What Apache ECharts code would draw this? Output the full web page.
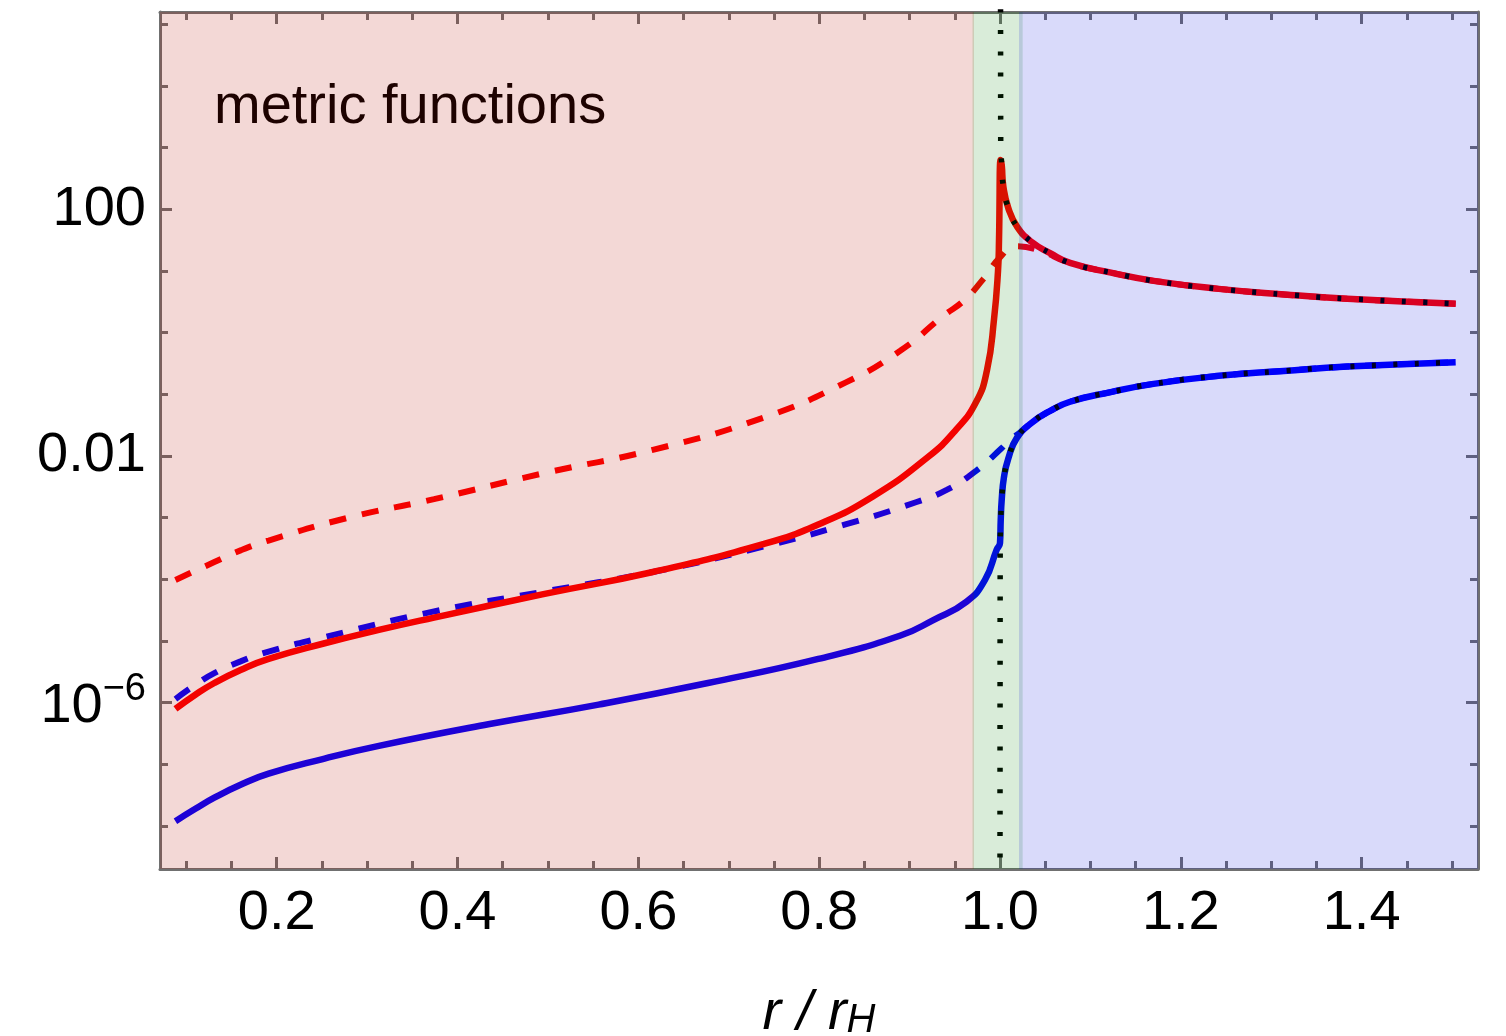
<!DOCTYPE html>
<html>
<head>
<meta charset="utf-8">
<title>metric functions</title>
<script src="https://cdn.jsdelivr.net/npm/echarts@6/dist/echarts.min.js"></script>
<style>
  html, body { margin: 0; padding: 0; background: #fff; }
  #chart { width: 1506px; height: 1036px; }
</style>
</head>
<body>
<div id="chart"></div>
<script>
  // x = r / r_H, y = log10 of the metric function (axis labelled as powers of ten)
  const rRedSolid = [0.088, 0.110, 0.131, 0.160, 0.191, 0.252, 0.313, 0.374, 0.495, 0.616, 0.738, 0.799, 0.859, 0.920, 0.951,
    0.9734, 0.9856, 0.9934, 0.9978, 0.9989, 1.0006, 1.0019, 1.0037, 1.0092, 1.0192, 1.0351, 1.0554,
    1.0775, 1.124, 1.170, 1.242, 1.314, 1.384, 1.504];
  const logRedSolid = [-6.10, -5.87, -5.68, -5.47, -5.29, -5.04, -4.82, -4.62, -4.24, -3.88, -3.43, -3.11, -2.66, -2.02, -1.58,
    -1.13, -0.61, 0.22, 1.0, 1.5, 2.80, 2.72, 2.37, 2.02, 1.71, 1.47, 1.29,
    1.13, 0.97, 0.84, 0.71, 0.62, 0.55, 0.47];

  const rRedDash = [0.088, 0.110, 0.131, 0.160, 0.191, 0.282, 0.374, 0.495, 0.616, 0.738, 0.829, 0.890, 0.938, 0.960,
    0.981, 1.000, 1.017, 1.042, 1.0775, 1.124, 1.170, 1.242, 1.314, 1.384, 1.504];
  const logRedDash = [-4.01, -3.86, -3.72, -3.53, -3.37, -2.99, -2.70, -2.28, -1.90, -1.38, -0.81, -0.29, 0.28, 0.52,
    0.86, 1.22, 1.40, 1.34, 1.13, 0.97, 0.84, 0.71, 0.62, 0.55, 0.47];

  const rBlueSolid = [0.088, 0.110, 0.131, 0.160, 0.191, 0.252, 0.313, 0.434, 0.556, 0.677, 0.799, 0.890, 0.9262, 0.9631,
    0.9834, 0.9963, 1.0, 1.0008, 1.0019, 1.0044, 1.0092, 1.0185, 1.0351, 1.0554, 1.0775, 1.1237,
    1.1698, 1.2418, 1.3138, 1.384, 1.504];
  const logBlueSolid = [-7.92, -7.72, -7.54, -7.33, -7.15, -6.91, -6.70, -6.35, -6.03, -5.68, -5.29, -4.91, -4.66, -4.36,
    -4.01, -3.52, -3.41, -3.04, -2.71, -2.34, -2.04, -1.71, -1.46, -1.27, -1.12, -0.96,
    -0.83, -0.70, -0.62, -0.55, -0.48];

  const rBlueDash = [0.088, 0.110, 0.131, 0.160, 0.191, 0.252, 0.374, 0.495, 0.616, 0.738, 0.829, 0.907, 0.941, 0.9735,
    1.002, 1.009, 1.022, 1.0351, 1.0554, 1.0775, 1.1237, 1.1698, 1.2418, 1.3138, 1.384, 1.504];
  const logBlueDash = [-5.94, -5.71, -5.52, -5.33, -5.17, -4.94, -4.52, -4.20, -3.88, -3.47, -3.11, -2.75, -2.55, -2.24,
    -1.87, -1.76, -1.62, -1.46, -1.27, -1.12, -0.96, -0.83, -0.70, -0.62, -0.55, -0.48];

  // black dotted asymptotic curves
  const rAsymRed = [1.0006, 1.0008, 1.0019, 1.0037, 1.0092, 1.0192, 1.0351, 1.0554, 1.0775, 1.124,
    1.170, 1.242, 1.314, 1.384, 1.504];
  const logAsymRed = [5.6, 3.06, 2.72, 2.37, 2.02, 1.71, 1.47, 1.29, 1.13, 0.97,
    0.84, 0.71, 0.62, 0.55, 0.47];
  const rAsymBlue = [1.0, 1.0002, 1.0008, 1.0019, 1.0044, 1.0092, 1.0185, 1.0351, 1.0554, 1.0775,
    1.1237, 1.1698, 1.2418, 1.3138, 1.384, 1.504];
  const logAsymBlue = [-9.2, -3.6, -3.04, -2.71, -2.34, -2.04, -1.71, -1.46, -1.27, -1.12,
    -0.96, -0.83, -0.70, -0.62, -0.55, -0.48];

  // shaded regions (r / r_H)
  const regionInner = [0.0709, 0.9712];
  const regionMiddle = [0.9696, 1.0251];
  const regionOuter = [1.0210, 1.5287];

  // axis ticks
  const xMajor = [0.2, 0.4, 0.6, 0.8, 1.0, 1.2, 1.4];
  const xMinor = [0.1, 0.15, 0.25, 0.3, 0.35, 0.45, 0.5, 0.55, 0.65, 0.7, 0.75, 0.85, 0.9, 0.95,
    1.05, 1.1, 1.15, 1.25, 1.3, 1.35, 1.45, 1.5];
  const yMajor = [-6, -2, 2];
  const yMajorText = ['{m|10}{s|−6}', '0.01', '100'];
  const yMinor = [-8, -7, -5, -4, -3, -1, 0, 1, 3, 4, 5];

  const FONT = '"Liberation Sans", Arial, Helvetica, sans-serif';
  const FRAME = '#707070';

  const pairs = (xs, ys) => xs.map((x, i) => [x, ys[i]]);

  const chart = echarts.init(document.getElementById('chart'));

  function xAx(pos, ticks, len, withLabel) {
    return {
      type: 'value', position: pos, min: 0.0709, max: 1.5287,
      axisLine: { show: withLabel !== null, onZero: false, lineStyle: { color: FRAME, width: 3 } },
      axisTick: { show: true, inside: true, length: len, customValues: ticks, lineStyle: { color: FRAME, width: 3 } },
      axisLabel: withLabel ? {
        show: true, customValues: ticks, margin: 17, color: '#000', fontSize: 56, fontFamily: FONT,
        formatter: v => v.toFixed(1)
      } : { show: false },
      splitLine: { show: false }
    };
  }
  function yAx(pos, ticks, len, withLabel) {
    return {
      type: 'value', position: pos, min: -8.696, max: 5.199,
      axisLine: { show: withLabel !== null, onZero: false, lineStyle: { color: FRAME, width: 3 } },
      axisTick: { show: true, inside: true, length: len, customValues: ticks, lineStyle: { color: FRAME, width: 3 } },
      axisLabel: withLabel ? {
        show: true, customValues: ticks, margin: 14, color: '#000', fontSize: 56, fontFamily: FONT,
        formatter: v => yMajorText[yMajor.indexOf(Math.round(v))],
        rich: {
          m: { fontSize: 56, fontFamily: FONT, color: '#000', padding: [8, 0, 0, 0] },
          s: { fontSize: 38, fontFamily: FONT, color: '#000', lineHeight: 20, verticalAlign: 'top' }
        }
      } : { show: false },
      splitLine: { show: false }
    };
  }

  const xAxes = [
    xAx('bottom', xMajor, 12, true),
    xAx('bottom', xMinor, 8, null),
    xAx('top', xMajor, 12, false),
    xAx('top', xMinor, 8, null)
  ];
  xAxes[0].name = '{i|r / r}{h|H}';
  xAxes[0].nameLocation = 'middle';
  xAxes[0].nameGap = 116;
  xAxes[0].nameTextStyle = {
    rich: {
      i: { fontSize: 56, fontStyle: 'italic', fontFamily: FONT, color: '#000' },
      h: { fontSize: 40, fontStyle: 'italic', fontFamily: FONT, color: '#000', lineHeight: 24, verticalAlign: 'bottom' }
    }
  };

  const yAxes = [
    yAx('left', yMajor, 12, true),
    yAx('left', yMinor, 8, null),
    yAx('right', yMajor, 12, false),
    yAx('right', yMinor, 8, null)
  ];

  function curve(xs, ys, color, width, dash) {
    return {
      type: 'line', data: pairs(xs, ys), showSymbol: false, symbol: 'none',
      smooth: 0.5, clip: true, silent: true,
      lineStyle: { color: color, width: width, type: dash || 'solid', cap: 'butt' }
    };
  }

  const option = {
    animation: false,
    backgroundColor: '#fff',
    title: {
      text: 'metric functions', left: 209, top: 75, z: 1,
      textStyle: { color: '#000', fontSize: 56, fontWeight: 'normal', fontFamily: FONT }
    },
    grid: { left: 160, right: 28, top: 12, bottom: 167, containLabel: false, outerBoundsMode: 'none' },
    xAxis: xAxes,
    yAxis: yAxes,
    series: [
      curve(rBlueSolid, logBlueSolid, '#0000ff', 6.5),
      curve(rBlueDash, logBlueDash, '#0000ff', 6, [17, 16]),
      curve(rRedSolid, logRedSolid, '#ff0000', 6.5),
      curve(rRedDash, logRedDash, '#ff0000', 6, [17, 16]),
      curve(rAsymRed, logAsymRed, '#000000', 5.5, [4, 17.4]),
      curve(rAsymBlue, logAsymBlue, '#000000', 5.5, [4, 17.4]),
      {
        // translucent region overlays drawn over everything inside the frame
        type: 'line', data: [], silent: true, z: 10,
        markArea: {
          silent: true, z: 10,
          label: { show: false },
          data: [
            [{ xAxis: regionInner[0], itemStyle: { color: 'rgba(180,10,0,0.16)' } }, { xAxis: regionInner[1] }],
            [{ xAxis: regionMiddle[0], itemStyle: { color: 'rgba(0,128,0,0.15)' } }, { xAxis: regionMiddle[1] }],
            [{ xAxis: regionOuter[0], itemStyle: { color: 'rgba(0,8,222,0.15)' } }, { xAxis: regionOuter[1] }]
          ]
        }
      }
    ]
  };

  chart.setOption(option);
  window.addEventListener('resize', () => chart.resize());
</script>
</body>
</html>
